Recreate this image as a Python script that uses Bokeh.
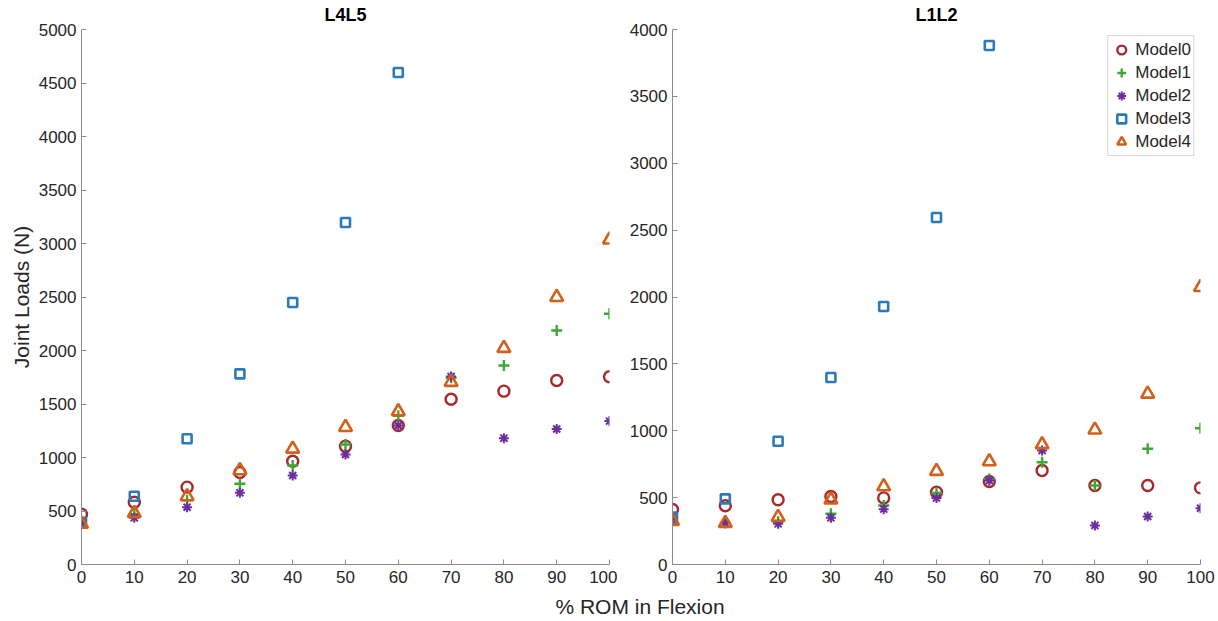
from bokeh.plotting import figure
from bokeh.layouts import row, column
from bokeh.models import FixedTicker, Range1d, Legend, LegendItem, Div
from bokeh.embed import file_html
from bokeh.resources import INLINE

# ---------------- data ----------------
rom = [0, 10, 20, 30, 40, 50, 60, 70, 80, 90, 100]
rom_m3 = [0, 10, 20, 30, 40, 50, 60]

l4l5_model0 = [470, 582, 723, 860, 965, 1106, 1299, 1545, 1620, 1720, 1755]
l4l5_model1 = [390, 470, 600, 754, 925, 1121, 1390, 1745, 1860, 2187, 2343]
l4l5_model2 = [380, 436, 536, 670, 832, 1028, 1299, 1757, 1181, 1266, 1340]
l4l5_model3 = [395, 638, 1175, 1782, 2449, 3196, 4598]
l4l5_model4 = [380, 480, 636, 879, 1081, 1283, 1430, 1704, 2022, 2498, 3035]

l1l2_model0 = [411, 439, 484, 508, 498, 541, 621, 703, 591, 591, 573]
l1l2_model1 = [330, 310, 320, 379, 441, 535, 640, 765, 591, 865, 1019]
l1l2_model2 = [330, 310, 304, 349, 414, 498, 628, 852, 292, 359, 421]
l1l2_model3 = [354, 491, 922, 1398, 1929, 2594, 3880]
l1l2_model4 = [324, 309, 354, 484, 583, 698, 770, 897, 1007, 1276, 2073]

model_names = ["Model0", "Model1", "Model2", "Model3", "Model4"]
x_ticks = [0, 10, 20, 30, 40, 50, 60, 70, 80, 90, 100]
y_ticks_l4l5 = [0, 500, 1000, 1500, 2000, 2500, 3000, 3500, 4000, 4500, 5000]
y_ticks_l1l2 = [0, 500, 1000, 1500, 2000, 2500, 3000, 3500, 4000]

# ---------------- styles ----------------
FONT = "Liberation Sans"
TXT = "#262626"
AX = "#8c8c8c"
styles = [
    dict(marker="circle", size=11, line_color="#A8282C", line_width=2.4, fill_color=None),
    dict(marker="cross", size=11, line_color="#3AAA35", line_width=2.4, fill_color=None),
    dict(marker="asterisk", size=10, line_color="#6A2E9E", line_width=2.0, fill_color=None),
    dict(marker="square", size=9, line_color="#2B7BBA", line_width=2.6, fill_color=None),
    dict(marker="triangle", size=13, line_color="#D2601A", line_width=2.6, fill_color=None),
]


def make_panel(title, ymax, yticks, series, width, bl, br, show_legend=False):
    p = figure(width=width, height=590, output_backend="svg", toolbar_location=None,
               x_range=Range1d(0, 100), y_range=Range1d(0, ymax),
               min_border_left=bl, min_border_right=br, min_border_top=29,
               min_border_bottom=26, title=title)
    p.title.text_font = FONT
    p.title.text_font_size = "18px"
    p.title.text_font_style = "bold"
    p.title.text_color = "#000000"
    p.title.vertical_align = "top"
    p.title.align = "center"
    p.title.offset = 0
    p.title.standoff = 6
    p.outline_line_color = None
    p.grid.visible = False
    p.background_fill_color = "white"
    p.border_fill_color = "white"
    for ax in (p.xaxis, p.yaxis):
        ax.axis_line_color = AX
        ax.major_tick_line_color = AX
        ax.minor_tick_line_color = None
        ax.major_tick_in = 5
        ax.major_tick_out = 0
        ax.major_label_text_font = FONT
        ax.major_label_text_font_size = "17px"
        ax.major_label_text_color = TXT
        ax.axis_line_width = 1
    p.xaxis.ticker = FixedTicker(ticks=x_ticks)
    p.yaxis.ticker = FixedTicker(ticks=yticks)
    p.xaxis.major_label_standoff = 6
    p.yaxis.major_label_standoff = 5

    renderers = []
    for (xs, ys), st in zip(series, styles):
        r = p.scatter(xs, ys, **st)
        renderers.append(r)
    if show_legend:
        items = [LegendItem(label=n, renderers=[r]) for n, r in zip(model_names, renderers)]
        lg = Legend(items=items, location="top_right")
        lg.label_text_font = FONT
        lg.label_text_font_size = "17px"
        lg.label_text_color = TXT
        lg.border_line_color = "#b0b0b0"
        lg.border_line_width = 1
        lg.background_fill_color = "white"
        lg.glyph_width = 22
        lg.glyph_height = 23
        lg.label_height = 19
        lg.label_standoff = 3
        lg.spacing = 0
        lg.padding = 2
        lg.margin = 6
        p.add_layout(lg)
    return p


p1 = make_panel("L4L5", 5000, y_ticks_l4l5,
                [(rom, l4l5_model0), (rom, l4l5_model1), (rom, l4l5_model2),
                 (rom_m3, l4l5_model3), (rom, l4l5_model4)],
                width=617, bl=81, br=8)
p1.yaxis.axis_label = "Joint Loads (N)"
p1.yaxis.axis_label_text_font = FONT
p1.yaxis.axis_label_text_font_size = "21px"
p1.yaxis.axis_label_text_font_style = "normal"
p1.yaxis.axis_label_text_color = TXT
p1.yaxis.axis_label_standoff = 3

p2 = make_panel("L1L2", 4000, y_ticks_l1l2,
                [(rom, l1l2_model0), (rom, l1l2_model1), (rom, l1l2_model2),
                 (rom_m3, l1l2_model3), (rom, l1l2_model4)],
                width=601, bl=55, br=18, show_legend=True)

xlabel = Div(text="% ROM in Flexion", width=1218, height=31,
             styles={"text-align": "center", "font-family": FONT, "font-size": "21px",
                     "color": TXT, "width": "1218px", "padding-left": "52px",
                     "box-sizing": "border-box", "line-height": "24px"})

layout = column(row(p1, p2), xlabel)

open("out.html", "w").write(file_html(layout, INLINE))
